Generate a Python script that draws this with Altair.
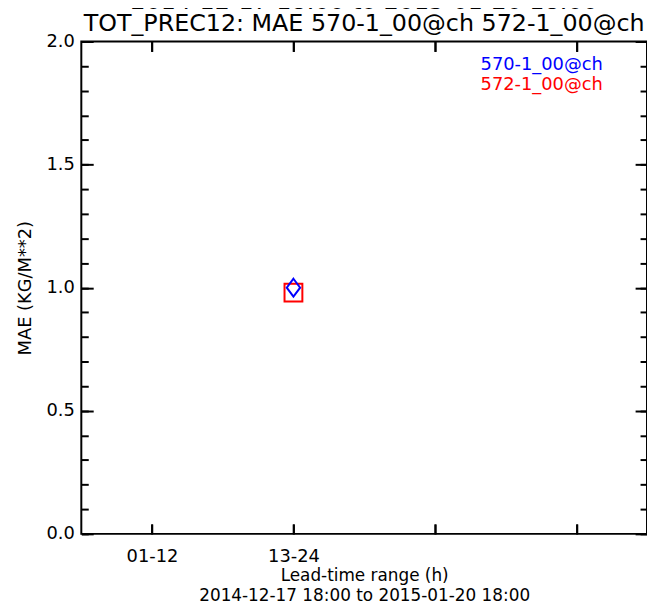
import altair as alt
import pandas as pd

# ---- data ----
lead_ranges = ["01-12", "13-24", "25-36", "37-48"]
labeled_ranges = ["01-12", "13-24"]
series_names = ["570-1_00@ch", "572-1_00@ch"]
series_colors = ["blue", "red"]
series_lead = ["13-24", "13-24"]
series_mae = [1.00, 0.98]
y_major = [0.0, 0.5, 1.0, 1.5, 2.0]
y_minor = [0.0, 0.1, 0.2, 0.3, 0.4, 0.5, 0.6, 0.7, 0.8, 0.9, 1.0,
           1.1, 1.2, 1.3, 1.4, 1.5, 1.6, 1.7, 1.8, 1.9, 2.0]
title_lines = ["2014-12-17 18:00 to 2015-01-20 18:00",
               "TOT_PREC12: MAE 570-1_00@ch 572-1_00@ch"]
xtitle_lines = ["Lead-time range (h)", "2014-12-17 18:00 to 2015-01-20 18:00"]
ytitle = "MAE (KG/M**2)"

df = pd.DataFrame({"series": series_names, "lead": series_lead, "mae": series_mae})

W, H = 571, 497
FONT = "DejaVu Sans"
diamond = "M0,-1L0.75,0L0,1L-0.75,0Z"

xscale = alt.Scale(domain=lead_ranges, type="point", padding=0.5)
yscale = alt.Scale(domain=[0, 2], nice=False, zero=True)

label_expr = "indexof(" + str(labeled_ranges) + ", datum.value) >= 0 ? datum.value : ''"


def tick_axis(orient, offset, values, size):
    return alt.Axis(orient=orient, offset=offset, values=values, tickSize=size,
                    tickWidth=2, tickColor="black", labels=False, domain=False,
                    grid=False, title=None)


points = alt.Chart(df).mark_point(filled=False, size=324, strokeWidth=2, opacity=1).encode(
    x=alt.X("lead:N", scale=xscale, sort=lead_ranges,
            axis=alt.Axis(orient="bottom", labelExpr=label_expr, labelAngle=0,
                          ticks=False, tickSize=0, domain=False, grid=False,
                          labelFont=FONT, labelFontSize=18, labelColor="black",
                          labelPadding=14, title=xtitle_lines, titleFont=FONT,
                          titleFontSize=17, titleFontWeight="normal", titleColor="black",
                          titlePadding=2, titleLineHeight=20)),
    y=alt.Y("mae:Q", scale=yscale,
            axis=alt.Axis(orient="left", values=y_major, format=".1f", ticks=False,
                          tickSize=0, domain=False, grid=False, labelFont=FONT,
                          labelFontSize=18, labelColor="black", labelPadding=7,
                          title=ytitle, titleFont=FONT, titleFontSize=18,
                          titleFontWeight="normal", titleColor="black", titlePadding=12)),
    color=alt.Color("series:N", scale=alt.Scale(domain=series_names, range=series_colors), legend=None),
    shape=alt.Shape("series:N", scale=alt.Scale(domain=series_names, range=[diamond, "square"]), legend=None),
    order=alt.Order("series:N", sort="descending"),
)

layers = [points]
for ax_x, ax_y in [
    (tick_axis("top", -H, lead_ranges, 10), tick_axis("right", -W, y_minor, 7)),
    (tick_axis("bottom", -H, lead_ranges, 10), tick_axis("right", -W, y_major, 12)),
    (tick_axis("top", -H, lead_ranges, 10), tick_axis("left", -W, y_minor, 7)),
    (tick_axis("bottom", -H, lead_ranges, 10), tick_axis("left", -W, y_major, 12)),
]:
    layers.append(alt.Chart(df).mark_point(opacity=0).encode(
        x=alt.X("lead:N", scale=xscale, sort=lead_ranges, axis=ax_x),
        y=alt.Y("mae:Q", scale=yscale, axis=ax_y),
    ))

# in-plot legend text
for i, (name, col) in enumerate(zip(series_names, series_colors)):
    layers.append(alt.Chart(pd.DataFrame({"name": [name]})).mark_text(
        align="left", baseline="middle", font=FONT, fontSize=18, color=col
    ).encode(text="name:N", x=alt.value(403), y=alt.value(24 + 19.5 * i)))

# two-line chart title (first line runs off the top edge, as in the reference)
for i, line in enumerate(title_lines):
    layers.append(alt.Chart(pd.DataFrame({"t": [line]})).mark_text(
        align="center", baseline="alphabetic", font=FONT, fontSize=24, color="black"
    ).encode(text="t:N", x=alt.value(W / 2), y=alt.value(-33 + 22 * i)))

chart = alt.layer(*layers).resolve_axis(x="independent", y="independent").properties(
    width=W, height=H,
    autosize=alt.AutoSizeParams(type="none"),
    padding={"left": 74, "top": 31, "right": 0, "bottom": 70},
).configure_view(stroke="black", strokeWidth=2)

chart.save("out.html", embed_options={"renderer": "svg", "actions": False})
